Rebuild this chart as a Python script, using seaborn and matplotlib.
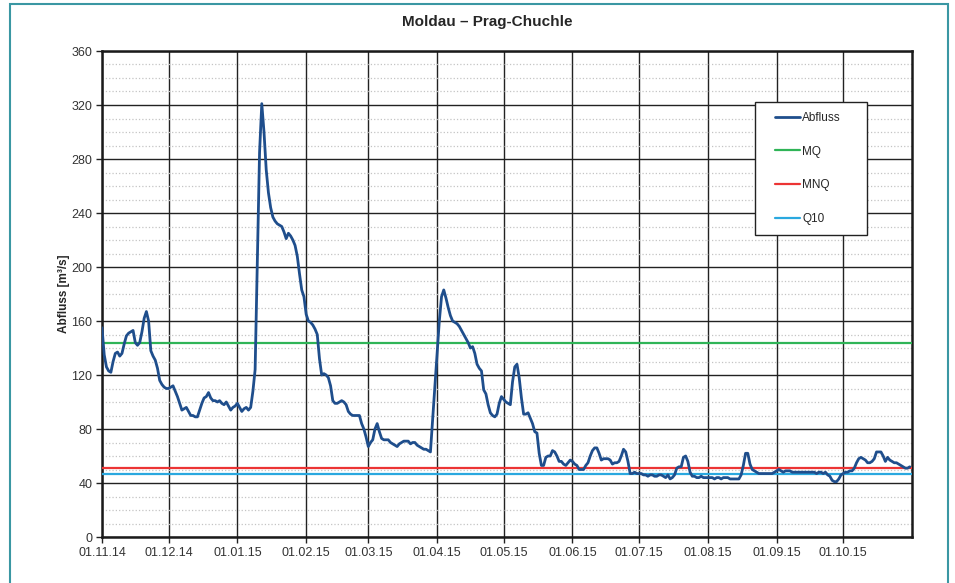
import pandas as pd
import seaborn as sns
import matplotlib.pyplot as plt
import matplotlib.ticker as mticker
import matplotlib.dates as mdates
from matplotlib.patches import Rectangle

# Daily discharge values (m³/s)
nov14 = [155, 135, 126, 123, 122, 130, 136, 137, 134, 136, 143, 149, 151, 152, 153,
         144, 142, 144, 152, 162, 167, 160, 138, 134, 131, 125, 116, 113, 111, 110]
dec14 = [110, 111, 112, 108, 104, 99, 94, 95, 96, 93, 90, 90, 89, 89, 94, 99,
         103, 104, 107, 103, 101, 101, 100, 101, 99, 98, 100, 97, 94, 96, 97]
jan15 = [99, 96, 93, 95, 96, 94, 96, 108, 124, 205, 285, 321, 300, 272, 255, 244,
         237, 234, 232, 231, 230, 226, 221, 225, 223, 220, 216, 208, 195, 183, 178]
feb15 = [165, 160, 159, 157, 154, 150, 132, 120, 121, 120, 118, 112, 101, 99,
         99, 100, 101, 100, 98, 93, 91, 90, 90, 90, 90, 84, 80, 74]
mar15 = [67, 70, 72, 80, 84, 78, 73, 72, 72, 72, 70, 69, 68, 67, 69, 70,
         71, 71, 71, 69, 70, 70, 68, 67, 66, 65, 65, 64, 63, 87, 110]
apr15 = [135, 160, 178, 183, 177, 170, 164, 160, 159, 158, 156, 153, 150, 147, 144,
         140, 141, 136, 128, 125, 123, 109, 106, 98, 92, 90, 89, 91, 99, 104]
may15 = [102, 100, 99, 98, 115, 126, 128, 118, 103, 91, 91, 92, 88, 84, 78, 77,
         62, 53, 53, 59, 60, 60, 64, 63, 60, 56, 56, 54, 53, 55, 57]
jun15 = [56, 54, 53, 50, 50, 50, 53, 55, 60, 64, 66, 66, 62, 57, 58,
         58, 58, 57, 54, 55, 55, 56, 60, 65, 63, 56, 47, 47, 48, 47]
jul15 = [47, 47, 46, 46, 45, 46, 46, 45, 45, 46, 46, 45, 44, 46, 43, 44,
         46, 51, 52, 52, 59, 60, 56, 48, 45, 45, 44, 44, 45, 44, 44]
aug15 = [44, 44, 44, 43, 44, 44, 43, 44, 44, 44, 43, 43, 43, 43, 43, 46,
         53, 62, 62, 54, 50, 49, 48, 47, 47, 47, 47, 47, 47, 47, 48]
sep15 = [49, 50, 49, 48, 49, 49, 49, 48, 48, 48, 48, 48, 48, 48, 48,
         48, 48, 48, 47, 48, 48, 47, 48, 46, 45, 42, 41, 41, 43, 46]
oct15 = [47, 48, 48, 49, 49, 51, 55, 58, 59, 58, 57, 55, 55, 56, 58, 63,
         63, 63, 60, 56, 59, 57, 56, 55, 55, 54, 53, 52, 51, 51, 52]

# Reference levels
mq = 144
mnq = 51
q10 = 47

series_labels = ['Abfluss', 'MQ', 'MNQ', 'Q10']
series_colors = ['#1f4e8c', '#2fb457', '#ec3434', '#2aa8df']
y_ticks = list(range(0, 361, 40))

abfluss = nov14 + dec14 + jan15 + feb15 + mar15 + apr15 + may15 + jun15 + jul15 + aug15 + sep15 + oct15
dates = pd.date_range('2014-11-01', periods=len(abfluss), freq='D')
df = pd.DataFrame({'Datum': dates, 'Abfluss': abfluss})

sns.set_style('white')
plt.rcParams['font.family'] = ['Liberation Sans', 'DejaVu Sans']

fig = plt.figure(figsize=(9.55, 5.83), dpi=100)
ax = fig.add_axes([102 / 955, 46 / 583, 810 / 955, 486 / 583])

sns.lineplot(data=df, x='Datum', y='Abfluss', ax=ax, color=series_colors[0],
             linewidth=2.0, label=series_labels[0], zorder=5)
ax.axhline(mq, color=series_colors[1], linewidth=1.6, label=series_labels[1], zorder=4)
ax.axhline(mnq, color=series_colors[2], linewidth=1.6, label=series_labels[2], zorder=4)
ax.axhline(q10, color=series_colors[3], linewidth=1.6, label=series_labels[3], zorder=4)

# axes ranges and ticks
ax.set_ylim(0, 360)
ax.set_yticks(y_ticks)
ax.yaxis.set_minor_locator(mticker.MultipleLocator(10))
ax.set_xlim(pd.Timestamp('2014-11-01'), pd.Timestamp('2015-11-01'))
ax.set_xticks(pd.date_range('2014-11-01', '2015-10-01', freq='MS'))
ax.xaxis.set_major_formatter(mdates.DateFormatter('%d.%m.%y'))

ax.set_axisbelow(True)
ax.grid(which='major', axis='both', color='#222222', linewidth=1.0)
ax.grid(which='minor', axis='y', color='#c4c4c4', linestyle=':', linewidth=0.9)

ax.tick_params(which='major', direction='out', length=4, width=1, color='#222222',
               labelsize=9, labelcolor='#333333', left=True, bottom=True, pad=3)
ax.tick_params(which='minor', length=0)

for side in ['left', 'right', 'top', 'bottom']:
    ax.spines[side].set_visible(True)
    ax.spines[side].set_color('#1a1a1a')
    ax.spines[side].set_linewidth(1.8)

ax.set_xlabel('')
ax.set_ylabel('Abfluss [m³/s]', fontsize=8.5, fontweight='bold', labelpad=1)

fig.text(487 / 955, 1 - 22 / 583, 'Moldau – Prag-Chuchle', ha='center', va='center',
         fontsize=11, fontweight='bold')

# legend box (drawn separately so the padding can be wider than tall)
ax.add_patch(Rectangle((0.806, 0.621), 0.138, 0.274, transform=ax.transAxes,
                       facecolor='white', edgecolor='#222222', linewidth=1.0, zorder=6))
leg = ax.legend(loc='upper left', bbox_to_anchor=(0.831, 0.875), borderaxespad=0,
                fontsize=8.5, labelspacing=1.85, handlelength=2.1, handletextpad=0.2,
                borderpad=0, frameon=False)
leg.set_zorder(7)

# teal frame around the figure
fig.patches.append(Rectangle((10 / 955, -0.05), 938 / 955, 1.05 - 4 / 583,
                             transform=fig.transFigure, fill=False,
                             edgecolor='#3a97a3', linewidth=1.5))

fig.savefig('out.png', dpi=100)
